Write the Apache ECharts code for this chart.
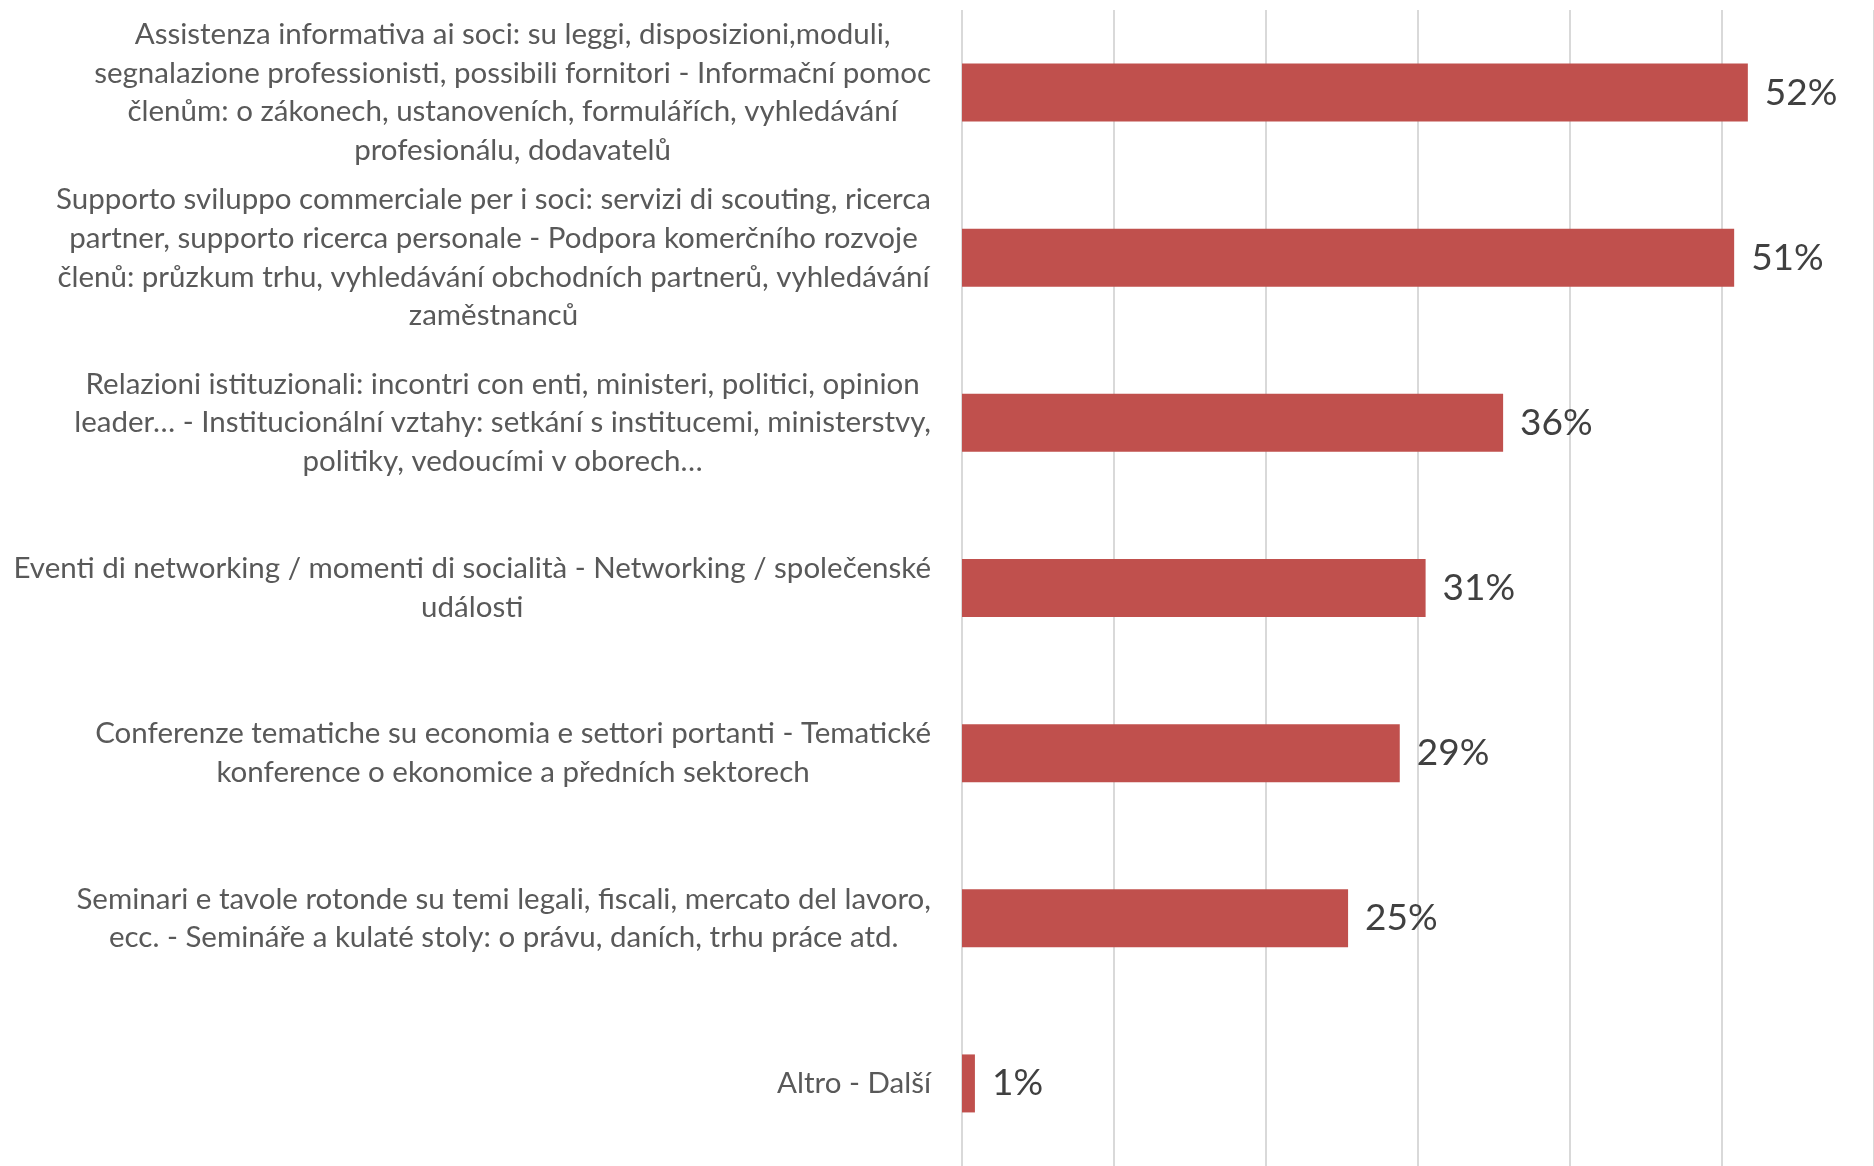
<!DOCTYPE html>
<html>
<head>
<meta charset="utf-8">
<script src="https://cdn.jsdelivr.net/npm/echarts@6/dist/echarts.min.js"></script>
<style>
html,body{margin:0;padding:0;background:#fff;}
#chart{width:1874px;height:1166px;}
</style>
</head>
<body>
<div id="chart"></div>
<script>
const categories = [
  "Assistenza informativa ai soci: su leggi, disposizioni,moduli,\nsegnalazione professionisti, possibili fornitori - Informační pomoc\nčlenům: o zákonech, ustanoveních, formulářích, vyhledávání\nprofesionálu, dodavatelů",
  "Supporto sviluppo commerciale per i soci: servizi di scouting, ricerca\npartner, supporto ricerca personale - Podpora komerčního rozvoje\nčlenů: průzkum trhu, vyhledávání obchodních partnerů, vyhledávání\nzaměstnanců",
  "Relazioni istituzionali: incontri con enti, ministeri, politici, opinion\nleader… - Institucionální vztahy: setkání s institucemi, ministerstvy,\npolitiky, vedoucími v oborech…",
  "Eventi di networking / momenti di socialità - Networking / společenské\nudálosti",
  "Conferenze tematiche su economia e settori portanti - Tematické\nkonference o ekonomice a předních sektorech",
  "Seminari e tavole rotonde su temi legali, fiscali, mercato del lavoro,\necc. - Semináře a kulaté stoly: o právu, daních, trhu práce atd.",
  "Altro - Další"
];
const values = [51.7, 50.8, 35.6, 30.5, 28.8, 25.4, 0.85];
const xTicks = [0, 10, 20, 30, 40, 50, 60];

const chart = echarts.init(document.getElementById('chart'), null, {renderer: 'canvas'});
chart.setOption({
  animation: false,
  backgroundColor: '#ffffff',
  grid: {left: 962, top: 10, width: 930, height: 1161, containLabel: false},
  xAxis: {
    type: 'value',
    min: xTicks[0],
    max: xTicks[xTicks.length - 1],
    interval: 10,
    axisLine: {show: false},
    axisTick: {show: false},
    axisLabel: {show: false},
    splitLine: {show: true, lineStyle: {color: '#d9d9d9', width: 2}}
  },
  yAxis: {
    type: 'category',
    inverse: true,
    data: categories,
    axisLine: {show: false},
    axisTick: {show: false},
    splitLine: {show: false},
    axisLabel: {
      margin: 31,
      align: 'right',
      color: '#595959',
      fontFamily: 'Lato',
      fontSize: 29.5,
      lineHeight: 38.6,
      formatter: function (v) {
        return v.split('\n').map(function (l) { return '{c|' + l + '}'; }).join('\n');
      },
      rich: {
        c: {align: 'center', color: '#595959', fontFamily: 'Lato', fontSize: 29.5, lineHeight: 38.6}
      }
    }
  },
  series: [{
    type: 'bar',
    data: values,
    barWidth: 58,
    itemStyle: {color: '#c0504d'},
    label: {
      show: true,
      position: 'right',
      distance: 17,
      color: '#404040',
      fontFamily: 'Lato',
      fontSize: 37,
      formatter: function (p) { return Math.round(p.value) + '%'; }
    }
  }]
});
</script>
</body>
</html>
